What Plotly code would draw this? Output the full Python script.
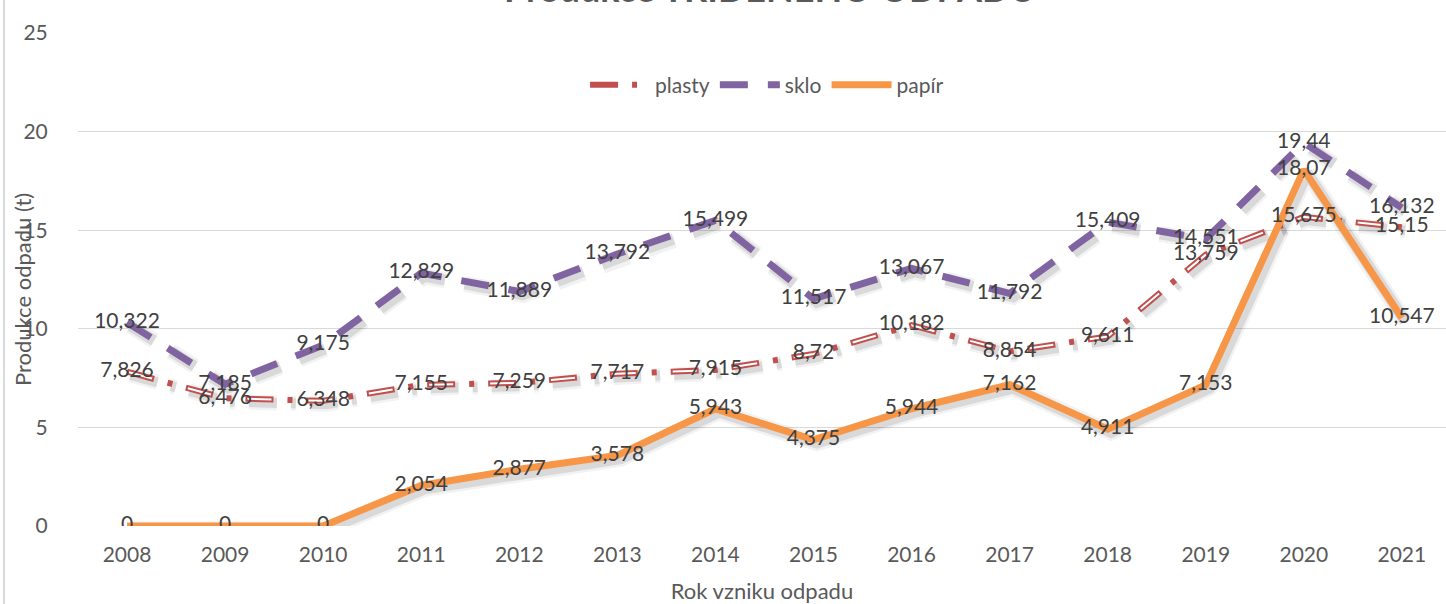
import plotly.graph_objects as go

years = ["2008", "2009", "2010", "2011", "2012", "2013", "2014",
         "2015", "2016", "2017", "2018", "2019", "2020", "2021"]
plasty = [7.826, 6.476, 6.348, 7.155, 7.259, 7.717, 7.915,
          8.72, 10.182, 8.854, 9.611, 13.759, 15.675, 15.15]
sklo = [10.322, 7.185, 9.175, 12.829, 11.889, 13.792, 15.499,
        11.517, 13.067, 11.792, 15.409, 14.551, 19.44, 16.132]
papir = [0, 0, 0, 2.054, 2.877, 3.578, 5.943,
         4.375, 5.944, 7.162, 4.911, 7.153, 18.07, 10.547]

title_text = "Produkce TŘÍDĚNÉHO ODPADU"
x_title = "Rok vzniku odpadu"
y_title = "Produkce odpadu (t)"

FONT = "Lato"
TXT = "#595959"
LBL = "#404040"
RED = "#C0504D"
PURPLE = "#8064A2"
ORANGE = "#F79646"

idx = list(range(len(years)))
sdx, sdy = 0.035, -0.17

RED_DASH = "28px,14px,5px,14px"
WHITE_DASH = "0px,2px,24px,35px"
SKLO_DASH = "28px,20px"


def fmt(v):
    return f"{v:g}".replace(".", ",")


fig = go.Figure()

# soft shadows (two layers)
for extra, alpha in ((9, 0.05), (4, 0.10)):
    col = f"rgba(0,0,0,{alpha})"
    fig.add_trace(go.Scatter(x=[i + sdx for i in idx], y=[v + sdy for v in plasty], mode="lines",
                             line=dict(color=col, width=6 + extra, dash=RED_DASH),
                             showlegend=False, hoverinfo="skip"))
    fig.add_trace(go.Scatter(x=[i + sdx for i in idx], y=[v + sdy for v in sklo], mode="lines",
                             line=dict(color=col, width=7 + extra, dash=SKLO_DASH),
                             showlegend=False, hoverinfo="skip"))
    fig.add_trace(go.Scatter(x=[i + sdx for i in idx], y=[v + sdy for v in papir], mode="lines",
                             line=dict(color=col, width=7 + extra),
                             showlegend=False, hoverinfo="skip"))

# plasty: double line + dot
fig.add_trace(go.Scatter(x=idx, y=plasty, mode="lines", name="plasty",
                         line=dict(color=RED, width=6, dash=RED_DASH)))
fig.add_trace(go.Scatter(x=idx, y=plasty, mode="lines", showlegend=False, hoverinfo="skip",
                         line=dict(color="white", width=2, dash=WHITE_DASH)))
# sklo
fig.add_trace(go.Scatter(x=idx, y=sklo, mode="lines", name="sklo",
                         line=dict(color=PURPLE, width=7, dash=SKLO_DASH)))
# papír
fig.add_trace(go.Scatter(x=idx, y=papir, mode="lines", name="papír",
                         line=dict(color=ORANGE, width=7)))

# labels on top
for series in (plasty, sklo, papir):
    fig.add_trace(go.Scatter(x=idx, y=series, mode="text",
                             text=[fmt(v) for v in series],
                             textposition="middle center",
                             textfont=dict(family=FONT, size=21, color=LBL),
                             showlegend=False, hoverinfo="skip"))

fig.update_layout(
    width=1446, height=604,
    margin=dict(l=78, r=0, t=33, b=78),
    paper_bgcolor="white", plot_bgcolor="white",
    font=dict(family=FONT, size=21, color=TXT),
    legend=dict(orientation="h", x=0.5037, xanchor="center", y=0.8945, yanchor="middle",
                font=dict(family=FONT, size=21, color=TXT), bgcolor="rgba(0,0,0,0)",
                itemwidth=60),
    xaxis=dict(range=[-0.5, 13.45], tickmode="array", tickvals=idx, ticktext=years,
               showgrid=False, zeroline=False, showline=False,
               ticks="outside", ticklen=10, tickcolor="rgba(0,0,0,0)",
               tickfont=dict(family=FONT, size=21, color=TXT),
               title=dict(text=x_title, font=dict(family=FONT, size=22, color=TXT), standoff=20)),
    yaxis=dict(range=[0, 25], dtick=5, showgrid=True, gridcolor="#D9D9D9", gridwidth=1.3,
               zeroline=False, showline=False,
               ticks="outside", ticklen=25, tickcolor="rgba(0,0,0,0)",
               tickfont=dict(family=FONT, size=21, color=TXT)),
    annotations=[
        dict(text="<b>" + title_text + "</b>", xref="paper", yref="paper",
             x=0.506, y=1.0436, xanchor="center", yanchor="bottom", showarrow=False,
             font=dict(family=FONT, size=36, color=TXT)),
        dict(text=y_title, xref="paper", yref="paper", x=-0.0409, y=0.4787,
             xanchor="center", yanchor="middle", textangle=-90, showarrow=False,
             font=dict(family=FONT, size=22, color=TXT)),
    ],
    shapes=[dict(type="line", xref="paper", yref="paper", x0=-0.0541, x1=-0.0541,
                 y0=-0.2, y1=1.1, line=dict(color="#D9D9D9", width=2))],
)

fig.write_html("out.html", config={"displayModeBar": False},
               post_script="document.body.style.margin='0';document.body.style.overflow='hidden';")
